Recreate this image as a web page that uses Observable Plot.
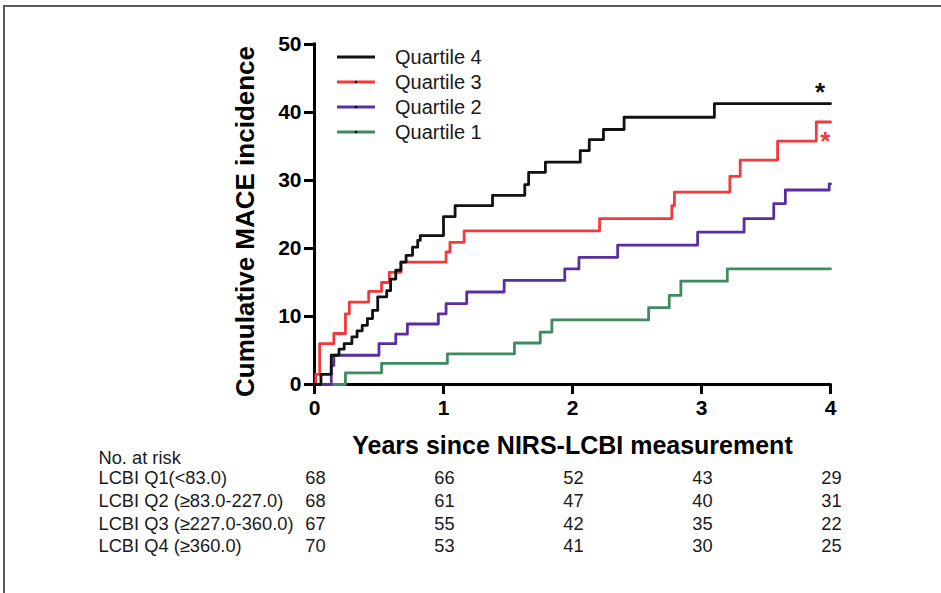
<!DOCTYPE html>
<html><head><meta charset="utf-8">
<script src="https://cdn.jsdelivr.net/npm/d3@7"></script>
<script src="https://cdn.jsdelivr.net/npm/@observablehq/plot@0.6"></script>
<style>
body{margin:0;background:#fff;}
#wrap{position:relative;width:941px;height:593px;overflow:hidden;background:#fff;}
#frame{position:absolute;left:3px;top:5px;right:-10px;bottom:-10px;border-top:2px solid #5a5a5a;border-left:2px solid #5a5a5a;pointer-events:none;}
</style></head><body>
<div id="wrap"><div id="chart"></div><div id="frame"></div></div>
<script>
// ---- data ----
const seriesNames = ["Quartile 4", "Quartile 3", "Quartile 2", "Quartile 1"];
const seriesColors = ["#111111", "#f2393b", "#5a2ea0", "#3f8b60"];
const legendDots = [false, true, true, true];

const q4Times  = [0, 0.05, 0.13, 0.19, 0.23, 0.29, 0.33, 0.37, 0.41, 0.45, 0.49, 0.56, 0.59, 0.63, 0.67, 0.71, 0.76, 0.80, 0.82, 1.00, 1.09, 1.38, 1.63, 1.66, 1.79, 2.06, 2.13, 2.24, 2.40, 3.10, 4.0];
const q4Values = [0, 1.5, 4.3, 5.2, 6.0, 7.0, 7.9, 8.7, 9.7, 10.9, 12.9, 13.8, 15.5, 16.8, 18.0, 19.0, 20.2, 21.2, 21.9, 24.7, 26.3, 27.8, 29.4, 31.2, 32.7, 34.4, 36.0, 37.5, 39.3, 41.3, 41.3];

const q3Times  = [0, 0.01, 0.04, 0.15, 0.24, 0.27, 0.42, 0.52, 0.58, 0.67, 1.02, 1.05, 1.16, 2.21, 2.77, 2.79, 3.22, 3.30, 3.59, 3.89, 4.0];
const q3Values = [0, 1.5, 6.0, 7.5, 10.4, 12.1, 13.7, 15.0, 16.5, 18.0, 19.5, 20.9, 22.6, 24.4, 26.3, 28.3, 30.6, 33.0, 35.8, 38.6, 38.6];

const q2Times  = [0, 0.13, 0.15, 0.50, 0.63, 0.72, 0.96, 1.02, 1.18, 1.47, 1.94, 2.05, 2.35, 2.97, 3.33, 3.56, 3.65, 3.99, 4.0];
const q2Values = [0, 2.8, 4.3, 6.0, 7.4, 8.9, 10.4, 11.9, 13.6, 15.3, 17.0, 18.7, 20.5, 22.4, 24.4, 26.6, 28.6, 29.5, 29.5];

const q1Times  = [0, 0.24, 0.52, 1.03, 1.55, 1.75, 1.84, 2.59, 2.75, 2.84, 3.20, 4.0];
const q1Values = [0, 1.7, 3.1, 4.5, 6.1, 7.7, 9.5, 11.3, 13.1, 15.2, 17.0, 17.0];

const xTicks = [0, 1, 2, 3, 4];
const yTicks = [0, 10, 20, 30, 40, 50];

const sigSeries = ["Quartile 4", "Quartile 3"];
const sigTimes = [3.92, 3.96];
const sigValues = [42.9, 35.75];

const riskTitle = "No. at risk";
const riskLabels = ["LCBI Q1(<83.0)", "LCBI Q2 (≥83.0-227.0)", "LCBI Q3 (≥227.0-360.0)", "LCBI Q4 (≥360.0)"];
const riskYears = [0, 1, 2, 3, 4];
const riskQ1 = [68, 66, 52, 43, 29];
const riskQ2 = [68, 61, 47, 40, 31];
const riskQ3 = [67, 55, 42, 35, 22];
const riskQ4 = [70, 53, 41, 30, 25];

const yLabel = "Cumulative MACE incidence";
const xLabel = "Years since NIRS-LCBI measurement";

// ---- build tables ----
const seriesTimes = [q4Times, q3Times, q2Times, q1Times];
const seriesValues = [q4Values, q3Values, q2Values, q1Values];
const curves = [];
// draw order: Quartile 1 first, Quartile 4 last
for (let s = seriesNames.length - 1; s >= 0; s--) {
  seriesTimes[s].forEach((t, i) => curves.push({series: seriesNames[s], t, v: seriesValues[s][i]}));
}
const sig = sigSeries.map((s, i) => ({series: s, t: sigTimes[i], v: sigValues[i]}));
const riskRows = [riskQ1, riskQ2, riskQ3, riskQ4];

const FONT = "'Liberation Sans', Arial, Helvetica, sans-serif";

const W = 941, H = 593;
const mL = 314, mR = 111, mT = 44, mB = 209;
const TABLE_FS = 18.3;
const TABLE_FILL = "#1a1a1a";

const riskMarks = [];
riskMarks.push(Plot.text([riskTitle], {frameAnchor: "bottom-left", text: d => d, dx: 98 - mL, dy: 74, textAnchor: "start", lineAnchor: "middle", fontSize: TABLE_FS, fill: TABLE_FILL}));
riskRows.forEach((row, r) => {
  const rowDy = 94 + r * 22.6;
  riskMarks.push(Plot.text([riskLabels[r]], {frameAnchor: "bottom-left", text: d => d, dx: 98 - mL, dy: rowDy, textAnchor: "start", lineAnchor: "middle", fontSize: TABLE_FS, fill: TABLE_FILL}));
  riskMarks.push(Plot.text(riskYears.map((y, i) => ({t: y, n: row[i]})), {x: "t", frameAnchor: "bottom", text: d => String(d.n), dx: 1, dy: rowDy, lineAnchor: "middle", fontSize: TABLE_FS, fill: TABLE_FILL}));
});

function legendMark(index, scales, values, dims) {
  const g = d3.create("svg:g");
  const x0 = dims.marginLeft + 23, x1 = x0 + 38, tx = x0 + 58;
  seriesNames.forEach((name, i) => {
    const y = dims.marginTop + 13 + i * 25;
    g.append("line").attr("x1", x0).attr("x2", x1).attr("y1", y).attr("y2", y)
      .attr("stroke", seriesColors[i]).attr("stroke-width", 2.8);
    if (legendDots[i]) g.append("circle").attr("cx", (x0 + x1) / 2).attr("cy", y).attr("r", 1.3).attr("fill", "#000");
    g.append("text").attr("x", tx).attr("y", y).attr("dy", "0.35em")
      .attr("text-anchor", "start")
      .attr("font-size", 20).attr("font-family", FONT).attr("fill", "#1a1a1a").text(name);
  });
  return g.node();
}

const chart = Plot.plot({
  width: W, height: H,
  marginLeft: mL, marginRight: mR, marginTop: mT, marginBottom: mB,
  style: {fontFamily: FONT, background: "transparent", color: "#000"},
  x: {domain: [0, 4]},
  y: {domain: [0, 50]},
  color: {domain: seriesNames, range: seriesColors},
  marks: [
    Plot.axisX({ticks: xTicks, tickSize: 10, tickPadding: 6, fontSize: 21, fontWeight: "bold", label: null, strokeWidth: 3, tickFormat: d => String(d)}),
    Plot.axisY({ticks: yTicks, tickSize: 10, tickPadding: 3, fontSize: 21, fontWeight: "bold", label: null, strokeWidth: 3, tickFormat: d => String(d)}),
    Plot.ruleY([0], {stroke: "#000", strokeWidth: 3, strokeLinecap: "square"}),
    Plot.ruleX([0], {stroke: "#000", strokeWidth: 3, strokeLinecap: "square"}),
    Plot.line(curves, {x: "t", y: "v", z: "series", stroke: "series", curve: "step-after", strokeWidth: 2.8}),
    Plot.text(sig, {x: "t", y: "v", text: () => "*", fill: "series", fontSize: 26, fontWeight: "bold"}),
    Plot.text([yLabel], {frameAnchor: "left", text: d => d, rotate: -90, textAnchor: "middle", dx: 245 - mL, dy: 7, fontSize: 26, fontWeight: "bold"}),
    Plot.text([xLabel], {frameAnchor: "bottom", text: d => d, lineAnchor: "middle", dy: 61, fontSize: 25, fontWeight: "bold"}),
    legendMark,
    ...riskMarks
  ]
});
document.getElementById("chart").append(chart);
</script>
</body></html>
